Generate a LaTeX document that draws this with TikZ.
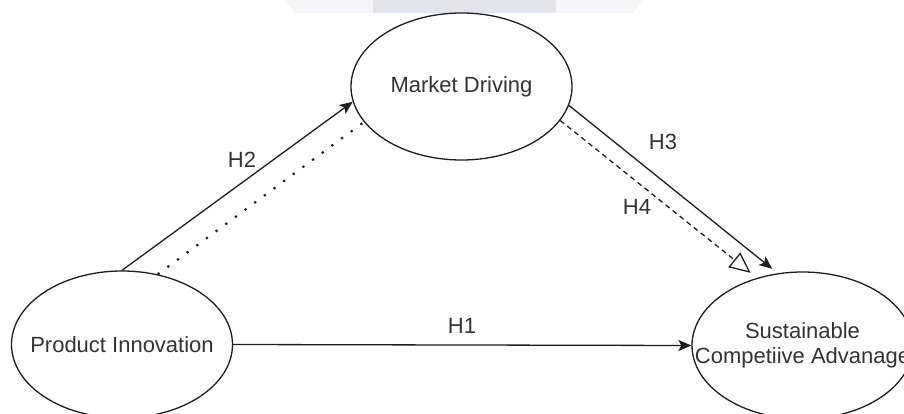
\documentclass[tikz,border=0pt]{standalone}
\usepackage{fontspec}
\setmainfont{Liberation Sans}
\usetikzlibrary{shapes.geometric,arrows.meta}
\definecolor{txt}{HTML}{333333}
\definecolor{ln}{HTML}{1E1E1E}
\definecolor{bandlight}{HTML}{F6F6F8}
\definecolor{banddark}{HTML}{E4E5EA}
\begin{document}
\begin{tikzpicture}[x=1pt,y=-1pt,
  construct/.style={ellipse,draw=ln,line width=1.3pt,fill=white,minimum width=221pt,minimum height=147pt,inner sep=0pt,
    label={[text=txt,font=\fontsize{22}{25}\selectfont,align=center,inner sep=0pt]center:#1}},
  hlabel/.style={text=txt,font=\fontsize{22}{25}\selectfont,inner sep=1pt},
  link/.style={draw=ln,line width=1.3pt},
  solidhead/.style={-{Stealth[length=13pt,width=11pt,inset=3pt]}},
  openhead/.style={-{Triangle[open,length=21pt,width=19pt,line width=1.3pt]}},
  dotline/.style={draw=ln,line width=2.2pt,dash pattern=on 2.2pt off 9.8pt},
  dashline/.style={draw=ln,line width=1.3pt,dash pattern=on 5pt off 4pt}]
\useasboundingbox (0,0) rectangle (904,414);
\clip (0,0) rectangle (904,414);
\fill[white] (0,0) rectangle (904,414);
% faint band at the top
\fill[bandlight] (284,0) -- (643,0) -- (633,13) -- (296,13) -- cycle;
\fill[banddark] (373,0) rectangle (556,13);
% constructs
\node[construct={Market Driving}] (md) at (461.5,86.5) {};
\node[construct={Product Innovation}] (pi) at (122,344.5) {};
\node[construct={Sustainable\\Competiive Advanage}] (sca) at (802.5,345.5) {};
% connectors
\draw[link,solidhead] (pi.north) -- (md.188);
\draw[dotline] (pi.63) -- (md.200);
\draw[link,solidhead,shorten >=7pt] (md.350.5) -- (sca.109.3);
\draw[dashline,openhead,shorten >=8pt] (md.341) -- (sca.124);
\draw[link,solidhead] (pi.east) -- (sca.west);
% labels
\node[hlabel] (h2) at (242,160) {H2};
\node[hlabel] (h3) at (663,142) {H3};
\node[hlabel] (h4) at (637,207) {H4};
\node[hlabel] (h1) at (462,326) {H1};
\end{tikzpicture}
\end{document}
